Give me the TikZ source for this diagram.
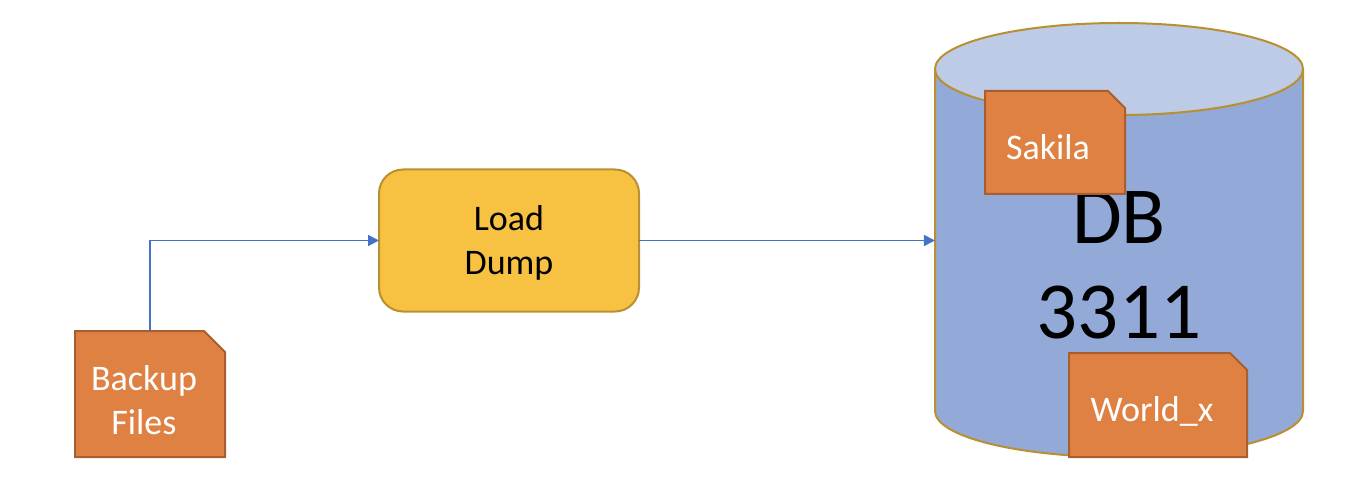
\documentclass[tikz,border=0pt]{standalone}
\usepackage{fontspec}
\setmainfont{Carlito}
\usetikzlibrary{arrows.meta,shapes.geometric,shapes.misc}
\definecolor{fileorange}{HTML}{E08144}
\definecolor{fileedge}{HTML}{A85E2E}
\definecolor{dbbody}{HTML}{93A9D7}
\definecolor{dbtop}{HTML}{BDCBE6}
\definecolor{goldedge}{HTML}{B8902F}
\definecolor{loadfill}{HTML}{F7C242}
\definecolor{linkblue}{HTML}{4472C4}
\tikzset{
  filebox/.style={chamfered rectangle,chamfered rectangle corners=north east,chamfered rectangle xsep=20pt,
    chamfered rectangle ysep=20pt,draw=fileedge,fill=fileorange,line width=2pt,inner sep=8.5pt,outer sep=0pt},
  filetext/.style={text=white,align=center,font=\fontsize{36}{44}\selectfont},
  link/.style={-{Triangle[length=11pt,width=11pt]},draw=linkblue,line width=1.8pt},
}
\begin{document}
\begin{tikzpicture}[x=1pt,y=1pt]
    \useasboundingbox (0,0) rectangle (1352,496);
    \node (db) at (1119,256) [cylinder,anchor=shape center,shape border rotate=90,aspect=2.3,minimum width=368pt,minimum height=434pt,
      outer sep=0pt,inner sep=20pt,draw=goldedge,line width=2pt,cylinder uses custom fill,
      cylinder body fill=dbbody,cylinder end fill=dbtop] {};
    \node (dbname) at (1119,231) [align=center,font=\fontsize{81}{95}\selectfont] {DB\\3311};
    \node (load) at (509,255.5) [draw=goldedge,fill=loadfill,rounded corners=24pt,minimum width=260pt,minimum height=142pt,
      outer sep=0pt,line width=2pt,label={[align=center,font=\fontsize{36}{44}\selectfont,yshift=-2pt]center:Load\\Dump}] {};
    \node (backup) at (150,102) [filebox,inner sep=10.5pt,minimum width=150pt,minimum height=126pt,
      label={[filetext,xshift=-6pt,yshift=-6pt]center:Backup\\Files}] {};
    \node (sakila) at (1055,353.5) [filebox,minimum width=140pt,minimum height=103pt,
      label={[filetext,xshift=-7pt,yshift=-5pt]center:Sakila}] {};
    \node (world) at (1158,91) [filebox,minimum width=178pt,minimum height=104pt,
      label={[filetext,xshift=-6pt,yshift=-6pt]center:World\_x}] {};
    \draw [link] (backup.north) |- (load.west);
    \draw [link] (load.east) -- (load.east -| db.west);
\end{tikzpicture}
\end{document}
